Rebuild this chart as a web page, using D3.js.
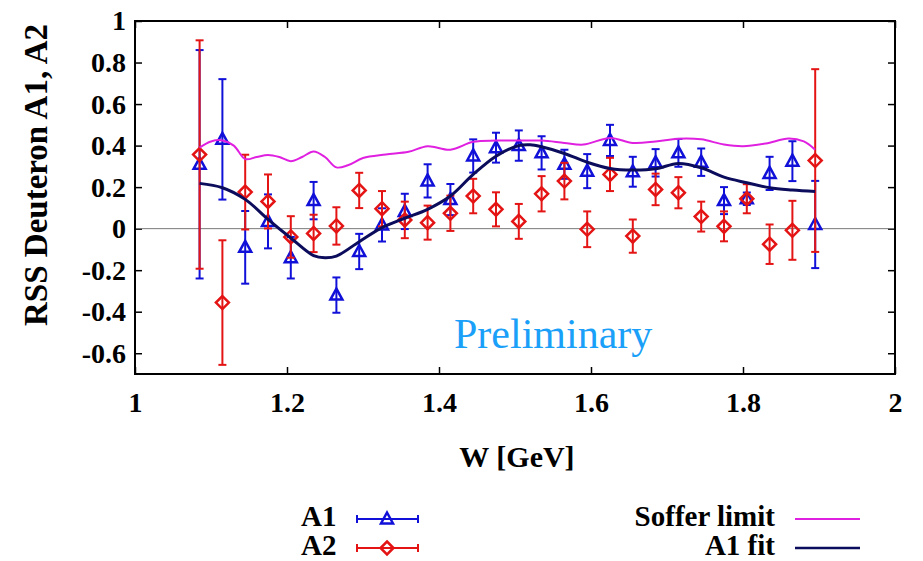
<!DOCTYPE html>
<style>
body { margin: 0; background: #fff; }
text { font-family: "Liberation Serif", "Times New Roman", serif; }
.axis .domain { display: none; }
.axis text { font-weight: bold; font-size: 28px; fill: #000; }
.axis line { stroke: #000; stroke-width: 1.5; }
</style>
<svg width="923" height="561"></svg>
<script src="https://d3js.org/d3.v7.min.js"></script>
<script>

// W bins (GeV)
var W = [1.085, 1.115, 1.145, 1.175, 1.205, 1.235, 1.265, 1.295, 1.325, 1.355,
         1.385, 1.415, 1.445, 1.475, 1.505, 1.535, 1.565, 1.595, 1.625, 1.655,
         1.685, 1.715, 1.745, 1.775, 1.805, 1.835, 1.865, 1.895];

var a1 = [0.31, 0.43, -0.09, 0.035, -0.14, 0.135, -0.32, -0.11, 0.018, 0.083,
          0.23, 0.14, 0.35, 0.39, 0.40, 0.365, 0.31, 0.277, 0.425, 0.274,
          0.317, 0.365, 0.32, 0.135, 0.144, 0.266, 0.325, 0.02];
var a1Err = [0.55, 0.29, 0.175, 0.13, 0.10, 0.09, 0.085, 0.085, 0.08, 0.085,
             0.08, 0.075, 0.08, 0.072, 0.073, 0.08, 0.07, 0.082, 0.075, 0.072,
             0.066, 0.067, 0.066, 0.065, 0.03, 0.08, 0.096, 0.21];

var a2 = [0.357, -0.356, 0.176, 0.131, -0.04, -0.023, 0.013, 0.184, 0.096, 0.042,
          0.029, 0.074, 0.157, 0.093, 0.035, 0.168, 0.229, -0.003, 0.261, -0.036,
          0.189, 0.173, 0.058, 0.011, 0.144, -0.075, -0.008, 0.328];
var a2Err = [0.55, 0.30, 0.18, 0.13, 0.10, 0.09, 0.09, 0.085, 0.085, 0.088,
             0.082, 0.085, 0.083, 0.082, 0.084, 0.085, 0.088, 0.086, 0.08, 0.08,
             0.076, 0.075, 0.072, 0.072, 0.07, 0.095, 0.142, 0.44];

var softerW = [1.085, 1.10, 1.115, 1.13, 1.145, 1.16, 1.175, 1.19, 1.205, 1.22,
               1.235, 1.25, 1.265, 1.28, 1.30, 1.33, 1.36, 1.385, 1.415, 1.445,
               1.475, 1.505, 1.535, 1.565, 1.59, 1.625, 1.655, 1.685, 1.715, 1.745,
               1.775, 1.80, 1.83, 1.86, 1.88, 1.895];
var soffer = [0.39, 0.42, 0.425, 0.40, 0.335, 0.345, 0.355, 0.345, 0.325, 0.345,
              0.372, 0.345, 0.295, 0.305, 0.34, 0.357, 0.37, 0.397, 0.38, 0.418,
              0.424, 0.424, 0.424, 0.413, 0.405, 0.437, 0.413, 0.42, 0.433, 0.43,
              0.405, 0.397, 0.41, 0.434, 0.42, 0.38];

var fitW = [1.085, 1.115, 1.145, 1.175, 1.205, 1.235, 1.25, 1.265, 1.295, 1.325,
            1.355, 1.385, 1.415, 1.445, 1.475, 1.505, 1.52, 1.535, 1.565, 1.595,
            1.625, 1.655, 1.685, 1.715, 1.745, 1.775, 1.805, 1.835, 1.865, 1.895];
var fit = [0.218, 0.197, 0.141, 0.045, -0.045, -0.13, -0.14, -0.132, -0.063, 0.005,
           0.05, 0.093, 0.157, 0.261, 0.349, 0.40, 0.404, 0.394, 0.362, 0.32,
           0.29, 0.282, 0.288, 0.314, 0.293, 0.248, 0.221, 0.197, 0.186, 0.179];

var xTicks = [1, 1.2, 1.4, 1.6, 1.8, 2];
var yTicks = [-0.6, -0.4, -0.2, 0, 0.2, 0.4, 0.6, 0.8, 1];

var blue = "#1010d8", red = "#e41414", magenta = "#e020e0", navy = "#0c0c5c";

var svg = d3.select("svg"),
    margin = {top: 21, left: 135},
    width = 760,
    height = 353,
    g = svg.append("g").attr("transform", "translate(" + margin.left + "," + margin.top + ")");

var x = d3.scaleLinear().domain([1, 2]).range([0, width]);
var y = d3.scaleLinear().domain([-0.7, 1]).range([height, 0]);

var fmt = function(d) { return String(+d.toFixed(1)); };

// axes, ticks pointing inward
g.append("g")
    .attr("class", "axis")
    .attr("transform", "translate(0," + height + ")")
    .call(d3.axisBottom(x).tickValues(xTicks).tickSize(-7).tickPadding(18).tickFormat(fmt));
g.append("g")
    .attr("class", "axis")
    .call(d3.axisTop(x).tickValues(xTicks).tickSize(-7).tickFormat(""));
g.append("g")
    .attr("class", "axis")
    .call(d3.axisLeft(y).tickValues(yTicks).tickSize(-7).tickPadding(9).tickFormat(fmt));
g.append("g")
    .attr("class", "axis")
    .attr("transform", "translate(" + width + ",0)")
    .call(d3.axisRight(y).tickValues(yTicks).tickSize(-7).tickFormat(""));

// zero line
g.append("line")
    .attr("x1", 0).attr("x2", width)
    .attr("y1", y(0)).attr("y2", y(0))
    .attr("stroke", "#7a7a7a")
    .attr("stroke-width", 1);

var tri = "M0,-6.5L6,4.5L-6,4.5Z",
    dia = "M0,-6.5L6.5,0L0,6.5L-6.5,0Z";

function series(vals, errs, color, shape) {
  var data = W.map(function(w, i) { return {w: w, v: vals[i], e: errs[i]}; });
  var s = g.append("g").attr("stroke", color).attr("fill", "none").attr("stroke-width", 2);
  var pt = s.selectAll("g").data(data).enter().append("g")
      .attr("transform", function(d) { return "translate(" + x(d.w) + ",0)"; });
  pt.append("line")
      .attr("y1", function(d) { return y(d.v + d.e); })
      .attr("y2", function(d) { return y(d.v - d.e); });
  pt.append("line")
      .attr("x1", -4).attr("x2", 4)
      .attr("y1", function(d) { return y(d.v + d.e); })
      .attr("y2", function(d) { return y(d.v + d.e); });
  pt.append("line")
      .attr("x1", -4).attr("x2", 4)
      .attr("y1", function(d) { return y(d.v - d.e); })
      .attr("y2", function(d) { return y(d.v - d.e); });
  pt.append("path")
      .attr("d", shape)
      .attr("stroke-width", 2.5)
      .attr("transform", function(d) { return "translate(0," + y(d.v) + ")"; });
}

series(a1, a1Err, blue, tri);
series(a2, a2Err, red, dia);

var line = d3.line()
    .x(function(d) { return x(d[0]); })
    .y(function(d) { return y(d[1]); })
    .curve(d3.curveCatmullRom);

g.append("path")
    .datum(d3.zip(softerW, soffer))
    .attr("d", line)
    .attr("fill", "none")
    .attr("stroke", magenta)
    .attr("stroke-width", 2);

g.append("path")
    .datum(d3.zip(fitW, fit))
    .attr("d", line)
    .attr("fill", "none")
    .attr("stroke", navy)
    .attr("stroke-width", 3);

// frame
g.append("rect")
    .attr("width", width)
    .attr("height", height)
    .attr("fill", "none")
    .attr("stroke", "#000")
    .attr("stroke-width", 2);

svg.append("text")
    .attr("x", 454)
    .attr("y", 348)
    .attr("fill", "#1aa0f8")
    .attr("font-size", 42)
    .text("Preliminary");

// axis titles
svg.append("text")
    .attr("transform", "translate(47,175) rotate(-90)")
    .attr("text-anchor", "middle")
    .attr("font-weight", "bold")
    .attr("font-size", 33)
    .text("RSS Deuteron A1, A2");

svg.append("text")
    .attr("x", 517)
    .attr("y", 467)
    .attr("text-anchor", "middle")
    .attr("font-weight", "bold")
    .attr("font-size", 30)
    .text("W [GeV]");

// legend
var legPts = [
  {label: "A1", color: blue, shape: tri, y: 519},
  {label: "A2", color: red, shape: dia, y: 548}
];
var lp = svg.append("g").selectAll("g").data(legPts).enter().append("g")
    .attr("transform", function(d) { return "translate(0," + d.y + ")"; });
lp.append("text")
    .attr("x", 301).attr("dy", 7)
    .attr("font-weight", "bold").attr("font-size", 29)
    .text(function(d) { return d.label; });
lp.append("path")
    .attr("d", "M357,0H418M357,-4V4M418,-4V4")
    .attr("stroke", function(d) { return d.color; })
    .attr("stroke-width", 2);
lp.append("path")
    .attr("d", function(d) { return d.shape; })
    .attr("transform", "translate(387,0)")
    .attr("fill", "none")
    .attr("stroke", function(d) { return d.color; })
    .attr("stroke-width", 2.5);

var legLines = [
  {label: "Soffer limit", color: magenta, w: 2, y: 519},
  {label: "A1 fit", color: navy, w: 2.5, y: 548}
];
var ll = svg.append("g").selectAll("g").data(legLines).enter().append("g")
    .attr("transform", function(d) { return "translate(0," + d.y + ")"; });
ll.append("text")
    .attr("x", 775).attr("dy", 7)
    .attr("text-anchor", "end")
    .attr("font-weight", "bold").attr("font-size", 29)
    .text(function(d) { return d.label; });
ll.append("line")
    .attr("x1", 795).attr("x2", 860)
    .attr("stroke", function(d) { return d.color; })
    .attr("stroke-width", function(d) { return d.w; });

</script>
